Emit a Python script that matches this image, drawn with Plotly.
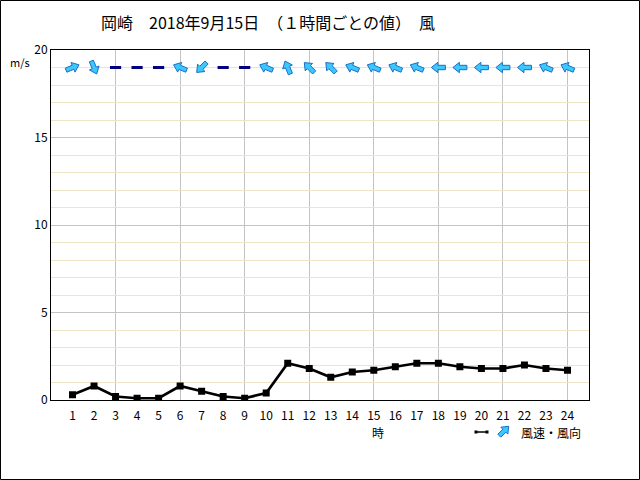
import math
import plotly.graph_objects as go

hours = list(range(1, 25))
speed = [0.3, 0.8, 0.2, 0.1, 0.1, 0.8, 0.5, 0.2, 0.1, 0.4, 2.1, 1.8,
         1.3, 1.6, 1.7, 1.9, 2.1, 2.1, 1.9, 1.8, 1.8, 2.0, 1.8, 1.7]
# direction wind blows FROM ("静穏" = calm)
direction = ["WSW", "NNW", "静穏", "静穏", "静穏", "ESE", "NE", "静穏", "静穏", "ESE", "SSE", "SE",
             "SE", "ESE", "ESE", "ESE", "ESE", "E", "E", "E", "E", "E", "ESE", "ESE"]
y_ticks = [0, 5, 10, 15, 20]

compass = ["N", "NNE", "NE", "ENE", "E", "ESE", "SE", "SSE",
           "S", "SSW", "SW", "WSW", "W", "WNW", "NW", "NNW"]
ARROW_ROW = 19

font = "Noto Sans CJK JP"
L, R, T, B = 51, 51, 50, 80
PW, PH = 640 - L - R, 480 - T - B
X_RANGE, Y_RANGE = [0, 25], [0, 20]
XS = PW / (X_RANGE[1] - X_RANGE[0])   # px per x unit
YS = PH / (Y_RANGE[1] - Y_RANGE[0])   # px per y unit

# fat arrow outline in local pixel units, pointing along +u
ARROW_SHAPE = [(-7, -2.2), (0.5, -2.2), (0.5, -5.2), (7, 0),
               (0.5, 5.2), (0.5, 2.2), (-7, 2.2), (-7, -2.2)]


def arrow_offsets(ang, scale=1.0):
    """pixel offsets (east, north) of the arrow outline pointing to `ang`
    (degrees clockwise from north)."""
    ux, uy = math.sin(math.radians(ang)), math.cos(math.radians(ang))
    vx, vy = -uy, ux
    return [((u * ux + v * vx) * scale, (u * uy + v * vy) * scale) for u, v in ARROW_SHAPE]


fig = go.Figure()
fig.add_trace(go.Scatter(x=hours, y=speed, mode="lines+markers",
                         line=dict(color="black", width=2.7),
                         marker=dict(symbol="square", size=7, color="black"),
                         showlegend=False, hoverinfo="skip"))

calm_x = [h for h, d in zip(hours, direction) if d not in compass]
fig.add_trace(go.Scatter(x=calm_x, y=[ARROW_ROW] * len(calm_x), mode="markers",
                         marker=dict(symbol="line-ew", size=8,
                                     line=dict(color="#000080", width=3)),
                         showlegend=False, hoverinfo="skip"))

ax_, ay_ = [], []
for h, d in zip(hours, direction):
    if d in compass:
        ang = (compass.index(d) * 22.5 + 180) % 360
        for ox, oy in arrow_offsets(ang):
            ax_.append(h + ox / XS)
            ay_.append(ARROW_ROW + oy / YS)
        ax_.append(None)
        ay_.append(None)
fig.add_trace(go.Scatter(x=ax_, y=ay_, mode="lines", fill="toself",
                         fillcolor="#3cc8ff", line=dict(color="#1a6fc4", width=1),
                         showlegend=False, hoverinfo="skip"))

fig.update_layout(
    width=640, height=480,
    margin=dict(l=L, r=R, t=T, b=B),
    paper_bgcolor="white", plot_bgcolor="white",
    font=dict(family=font, size=12, color="black"),
    xaxis=dict(range=X_RANGE, tickvals=hours, ticktext=[str(h) for h in hours],
               showgrid=False, zeroline=False, showline=True, linecolor="black",
               mirror=True, ticks="", ticklabelstandoff=5, tickfont=dict(size=12),
               minor=dict(tick0=0, dtick=3, showgrid=True, gridcolor="#c4c4c4",
                          gridwidth=1, ticks="")),
    yaxis=dict(range=Y_RANGE, tickvals=y_ticks, showgrid=True, gridcolor="#c4c4c4",
               zeroline=False, showline=True, linecolor="black", mirror=True,
               ticks="", tickfont=dict(size=12),
               minor=dict(dtick=1, showgrid=True, gridcolor="#efe4c6", ticks="")),
    showlegend=False,
)


def px(xp):
    return (xp - L) / PW


def py(yp):
    return (480 - B - yp) / PH


fig.add_annotation(text="岡崎　2018年9月15日　（１時間ごとの値）　風",
                   xref="paper", yref="paper", x=px(99), y=py(22),
                   xanchor="left", yanchor="middle", showarrow=False,
                   font=dict(size=16, family=font))
fig.add_annotation(text="m/s", xref="paper", yref="paper", x=px(8),
                   y=py(62), xanchor="left", yanchor="middle", showarrow=False,
                   font=dict(size=11, family=font))
fig.add_annotation(text="時", xref="paper", yref="paper", x=px(378),
                   y=py(432), xanchor="center", yanchor="middle", showarrow=False,
                   font=dict(size=12, family=font))
fig.add_annotation(text="風速・風向", xref="paper", yref="paper", x=px(519),
                   y=py(432), xanchor="left", yanchor="middle", showarrow=False,
                   font=dict(size=12, family=font))
# legend glyphs
fig.add_shape(type="line", xref="paper", yref="paper",
              x0=px(476), x1=px(487), y0=py(432), y1=py(432),
              line=dict(color="black", width=1.5))
for xx in (476, 487):
    fig.add_shape(type="rect", xref="paper", yref="paper",
                  x0=px(xx - 1.5), x1=px(xx + 1.5), y0=py(433.5), y1=py(430.5),
                  fillcolor="black", line=dict(width=0))
leg = arrow_offsets(45, 0.95)
path = "M " + " L ".join(f"{px(504 + ox):.5f},{py(431 - oy):.5f}" for ox, oy in leg) + " Z"
fig.add_shape(type="path", xref="paper", yref="paper", path=path,
              fillcolor="#3cc8ff", line=dict(color="#1a6fc4", width=1))
# outer frame
fig.add_shape(type="rect", xref="paper", yref="paper", x0=px(0.5), x1=px(639.5),
              y0=py(479.5), y1=py(0.5), line=dict(color="black", width=1))

fig.write_html("out.html", config={"displayModeBar": False},
               post_script="document.body.style.margin='0';")
